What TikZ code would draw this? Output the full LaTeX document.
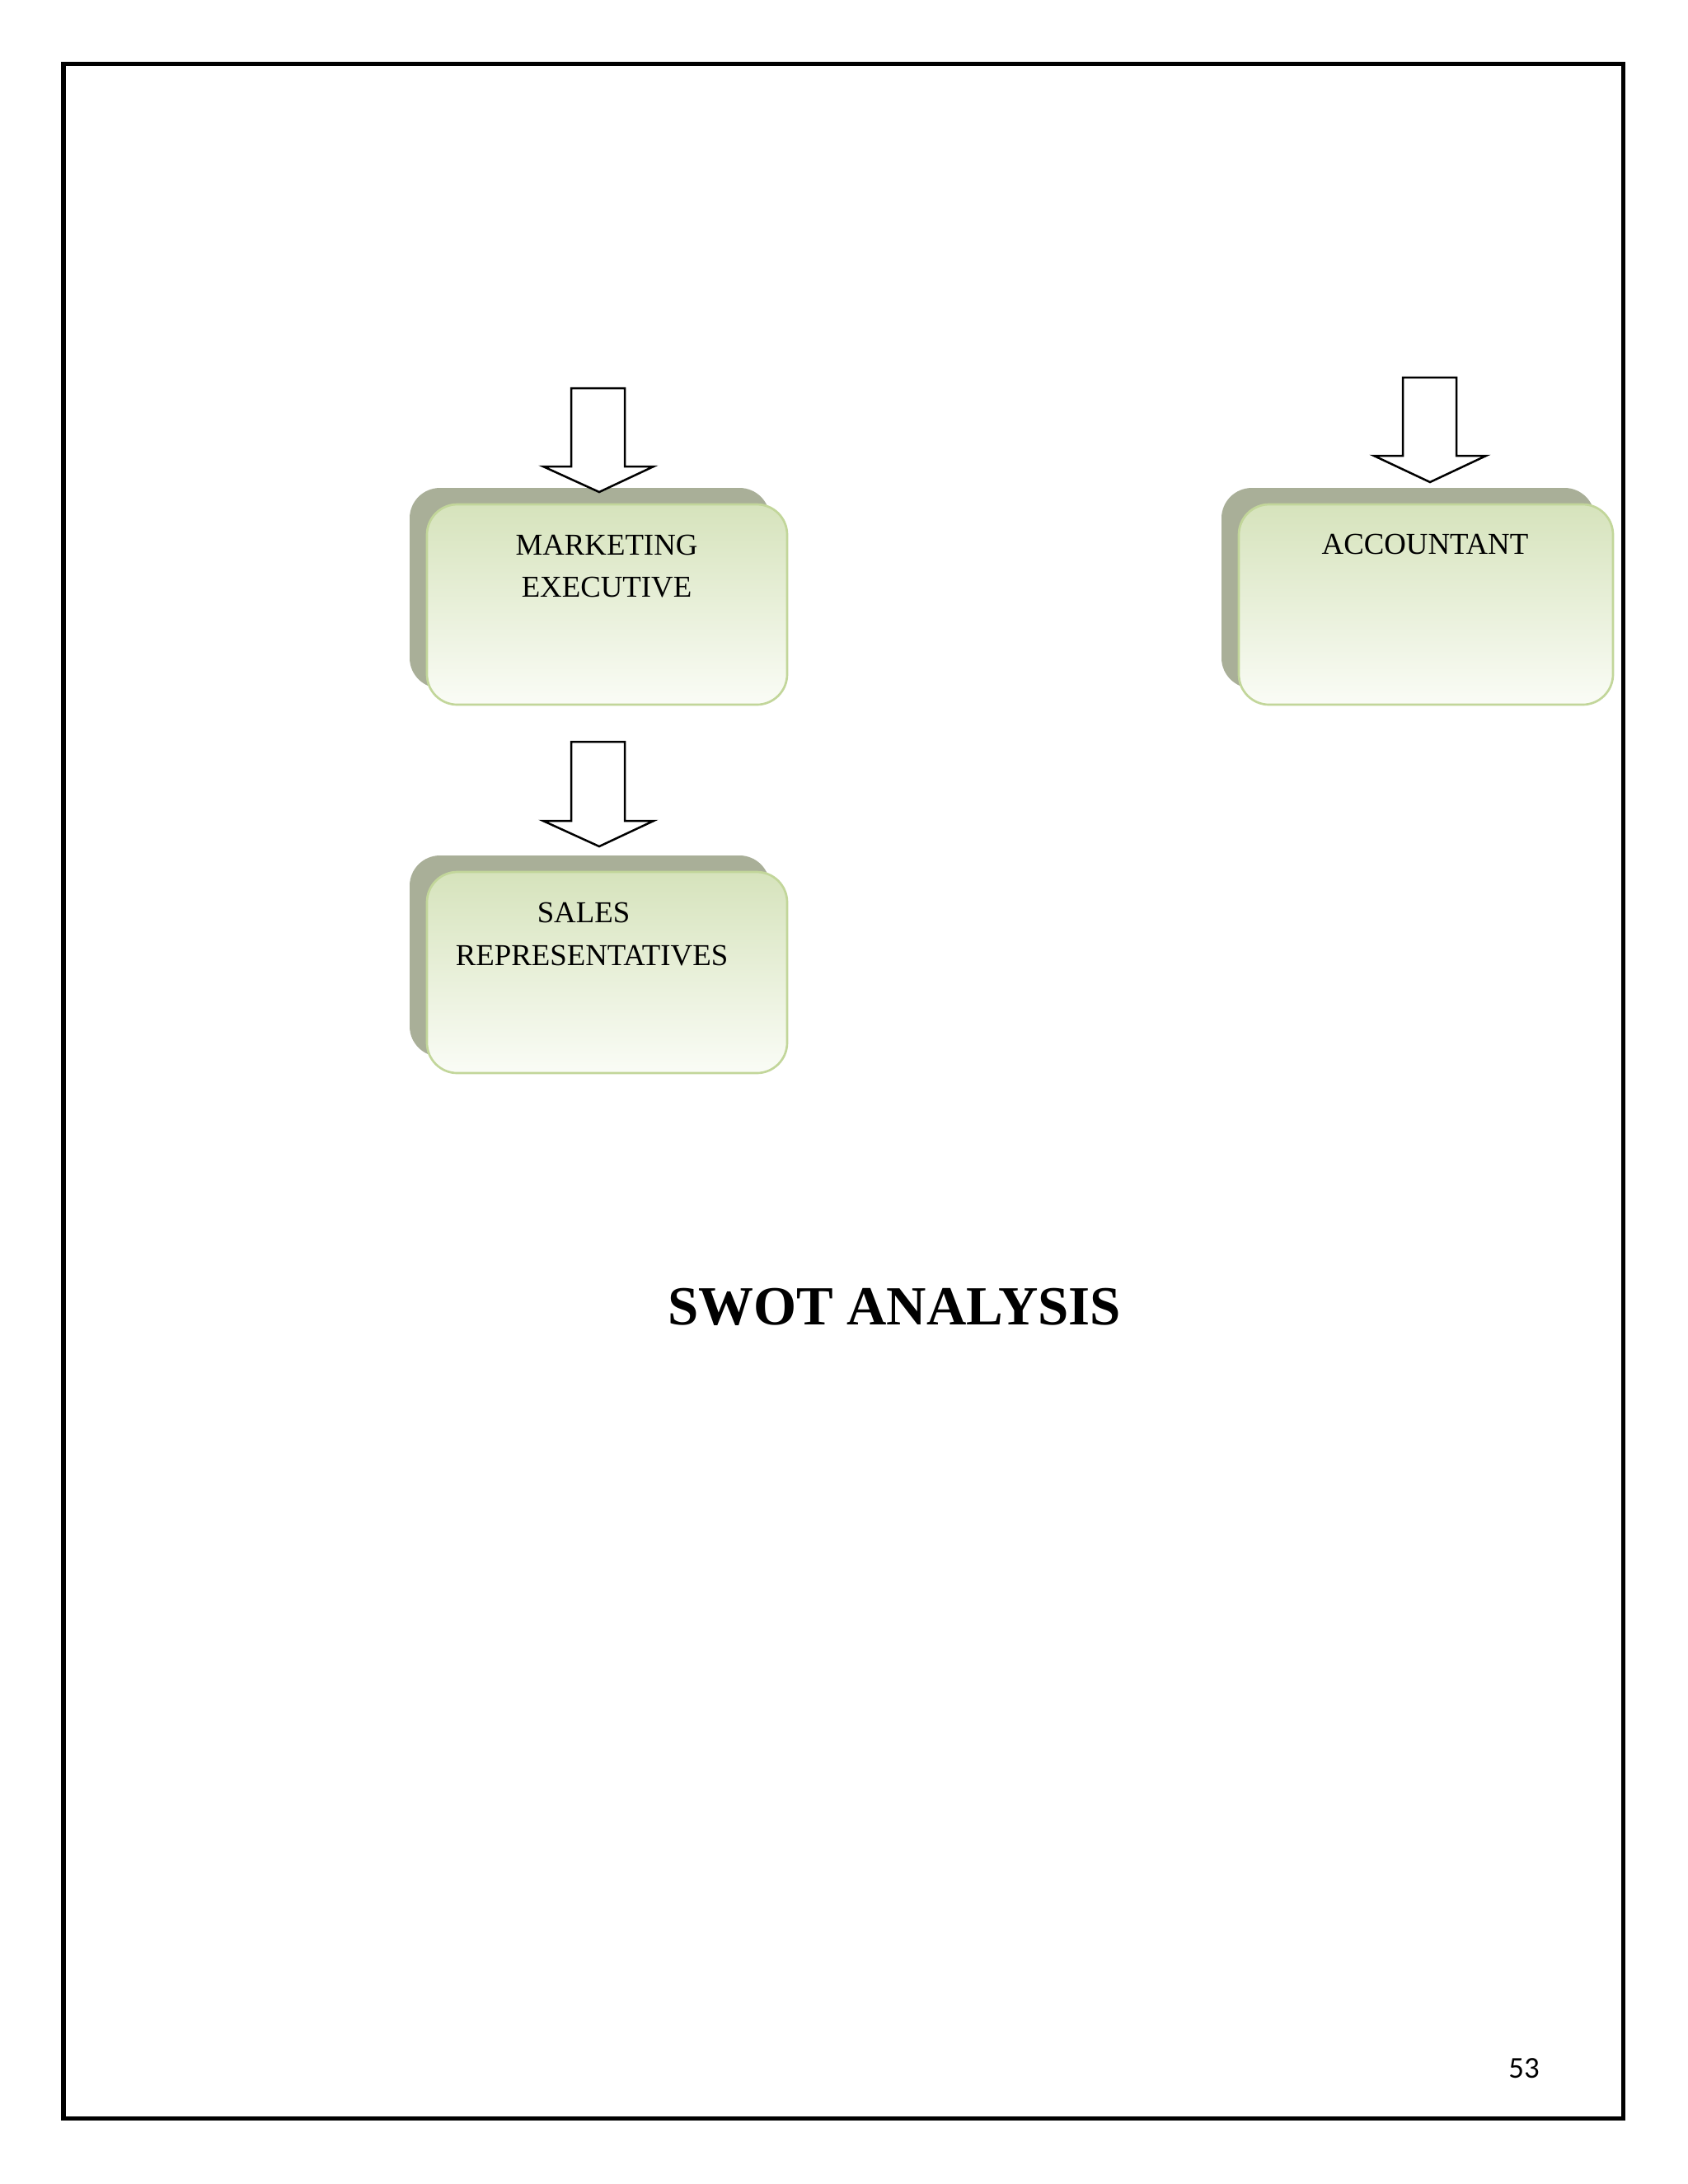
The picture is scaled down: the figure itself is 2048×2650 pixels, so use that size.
\documentclass[tikz,border=0pt]{standalone}
\usepackage{fontspec}
\setmainfont{Liberation Serif}
\newfontfamily\calib{Carlito}
\usetikzlibrary{fit}
\definecolor{shadowgray}{HTML}{A9AF98}
\definecolor{boxtop}{HTML}{D6E3BC}
\definecolor{boxbot}{HTML}{FAFCF6}
\definecolor{boxline}{HTML}{C2D69A}
\tikzset{
  frontbox/.style={rectangle, rounded corners=11pt, inner sep=0pt, draw=boxline, line width=0.8pt, top color=boxtop, bottom color=boxbot},
  shadowbox/.style={rectangle, rounded corners=11pt, inner sep=0pt, fill=shadowgray, draw=none},
  blockarrow/.style={draw=black, line width=0.75pt, fill=white, line join=miter},
  lbl/.style={anchor=base, inner sep=0pt, font=\fontsize{11}{13}\selectfont},
}
\begin{document}
\begin{tikzpicture}[x=0.29883pt,y=-0.29883pt]
\useasboundingbox (0,0) rectangle (2048,2650);
\fill[white] (0,0) rectangle (2048,2650);
% page frame
\draw[line width=1.5pt] (77,77) rectangle (1969,2570);

% Marketing executive
\node[shadowbox, fit={(497,592)(934,835)}] (mshadow) {};
\node[frontbox, fit={(518,612)(955,855)}] (mbox) {};
\node[lbl] (mt1) at (736,673) {MARKETING};
\node[lbl] (mt2) at (736,724) {EXECUTIVE};
\draw[blockarrow] (693,471) -- (758,471) -- (758,566) -- (793,566) -- (727,597) -- (659,566) -- (693,566) -- cycle;

% Sales representatives
\node[shadowbox, fit={(497,1038)(934,1282)}] (sshadow) {};
\node[frontbox, fit={(518,1058)(955,1302)}] (sbox) {};
\node[lbl] (st1) at (708,1119) {SALES};
\node[lbl] (st2) at (718,1171) {REPRESENTATIVES};
\draw[blockarrow] (693,900) -- (758,900) -- (758,996) -- (793,996) -- (727,1027) -- (659,996) -- (693,996) -- cycle;

% Accountant
\node[shadowbox, fit={(1482,592)(1935,835)}] (ashadow) {};
\node[frontbox, fit={(1503,612)(1957,855)}] (abox) {};
\node[lbl] (at1) at (1729,672) {ACCOUNTANT};
\draw[blockarrow] (1702,458) -- (1767,458) -- (1767,553) -- (1803,553) -- (1735,585) -- (1667,553) -- (1702,553) -- cycle;

% title
\node[anchor=base, inner sep=0pt, font=\fontsize{20}{24}\selectfont\bfseries] (title) at (1085,1607) {SWOT ANALYSIS};
% page number
\node[anchor=base, inner sep=0pt, font=\calib\fontsize{11}{13}\selectfont] (pnum) at (1849,2521) {53};
\end{tikzpicture}
\end{document}
